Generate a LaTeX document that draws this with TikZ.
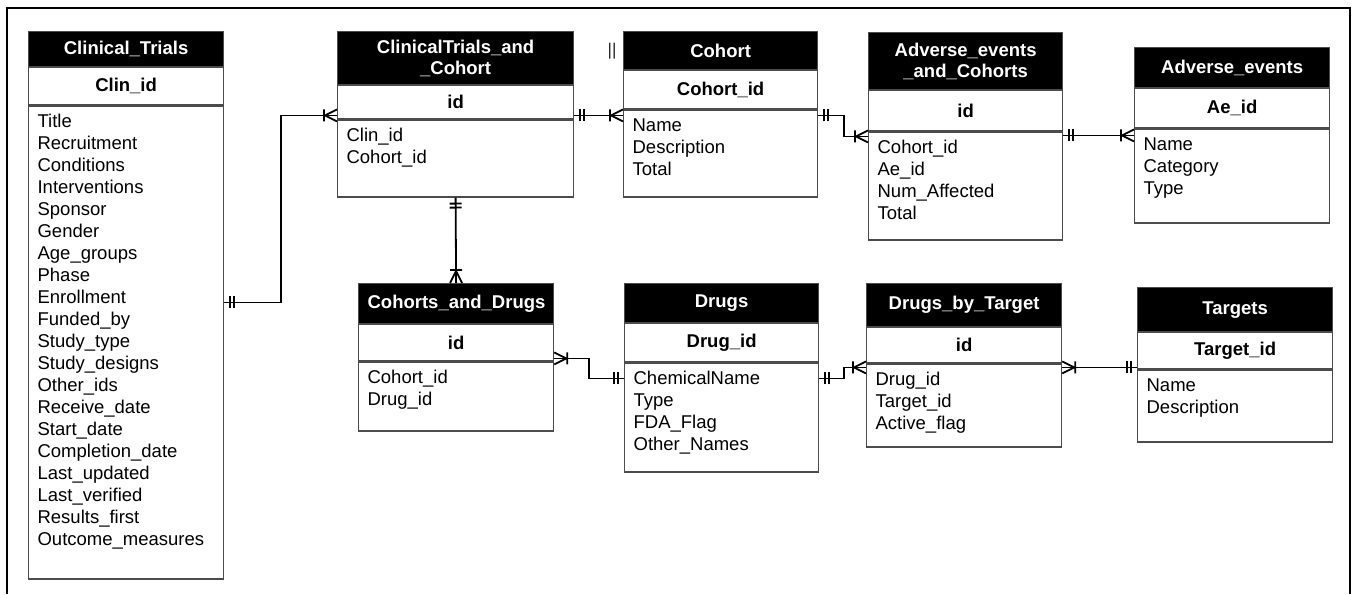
\documentclass[tikz,border=0pt]{standalone}
\usepackage{fontspec}
\setmainfont{Liberation Sans}
\usetikzlibrary{positioning,arrows.meta}

% crow's foot (one or many)
\pgfdeclarearrow{
  name=ermany,
  setup code={\pgfarrowssettipend{0pt}\pgfarrowssetlineend{0pt}},
  drawing code={
    \pgfsetdash{}{0pt}
    \pgfpathmoveto{\pgfpoint{0pt}{6pt}}
    \pgfpathlineto{\pgfpoint{-12pt}{0pt}}
    \pgfpathlineto{\pgfpoint{0pt}{-6pt}}
    \pgfpathmoveto{\pgfpoint{-13pt}{6pt}}
    \pgfpathlineto{\pgfpoint{-13pt}{-6pt}}
    \pgfusepathqstroke
  }
}
% one and only one
\pgfdeclarearrow{
  name=erone,
  setup code={\pgfarrowssettipend{0pt}\pgfarrowssetlineend{0pt}},
  drawing code={
    \pgfsetdash{}{0pt}
    \pgfpathmoveto{\pgfpoint{-6pt}{6pt}}
    \pgfpathlineto{\pgfpoint{-6pt}{-6pt}}
    \pgfpathmoveto{\pgfpoint{-10pt}{6pt}}
    \pgfpathlineto{\pgfpoint{-10pt}{-6pt}}
    \pgfusepathqstroke
  }
}

\begin{document}
\begin{tikzpicture}[x=1pt, y=-1pt,
  every node/.style={font=\fontsize{18.5}{22}\selectfont},
  tblhead/.style={draw=black!70, line width=1.2pt, fill=black, text=white, font=\fontsize{18.5}{21}\selectfont\bfseries, text width=#1, align=center, inner xsep=9pt, inner ysep=0pt, anchor=north west},
  tblhead/.default=177pt,
  tblkey/.style={draw=black!70, line width=1.2pt, fill=white, font=\fontsize{18.5}{21}\selectfont\bfseries, text width=#1, align=center, inner xsep=9pt, inner ysep=0pt},
  tblkey/.default=177pt,
  tblbody/.style={draw=black!70, line width=1.2pt, fill=white, text width=#1, align=left, inner xsep=9pt, inner ysep=0pt, text height=21.5pt},
  tblbody/.default=177pt,
  rel/.style={line width=1.8pt}]
	\useasboundingbox (0,0) rectangle (1356,594);
	\draw[line width=2.5pt] (7,594) -- (7,8) -- (1350,8) -- (1350,594);
	% tables, top row
	\node[tblhead, minimum height=35pt] (ct_head) at (28,31) {Clinical\_Trials};
	\node[tblkey, minimum height=37pt, below=0pt of ct_head] (ct_key) {Clin\_id};
	\node[tblbody, text depth=451.5pt, below=0pt of ct_key] (ct_body) {Title\\Recruitment\\Conditions\\Interventions\\Sponsor\\Gender\\Age\_groups\\Phase\\Enrollment\\Funded\_by\\Study\_type\\Study\_designs\\Other\_ids\\Receive\_date\\Start\_date\\Completion\_date\\Last\_updated\\Last\_verified\\Results\_first\\Outcome\_measures};
	\node[tblhead=218pt, minimum height=53pt] (ctc_head) at (337,31) {ClinicalTrials\_and\\\_Cohort};
	\node[tblkey=218pt, minimum height=33pt, below=0pt of ctc_head] (ctc_key) {id};
	\node[tblbody=218pt, text depth=55.5pt, below=0pt of ctc_key] (ctc_body) {Clin\_id\\Cohort\_id};
	\node[tblhead=176pt, minimum height=38pt] (coh_head) at (623,31) {Cohort};
	\node[tblkey=176pt, minimum height=38pt, below=0pt of coh_head] (coh_key) {Cohort\_id};
	\node[tblbody=176pt, text depth=65.5pt, below=0pt of coh_key] (coh_body) {Name\\Description\\Total};
	\node[tblhead=176pt, minimum height=57pt] (aec_head) at (868,32) {Adverse\_events\\\_and\_Cohorts};
	\node[tblkey=176pt, minimum height=40pt, below=0pt of aec_head] (aec_key) {id};
	\node[tblbody=176pt, text depth=86.5pt, below=0pt of aec_key] (aec_body) {Cohort\_id\\Ae\_id\\Num\_Affected\\Total};
	\node[tblhead, minimum height=40pt] (ae_head) at (1134,47) {Adverse\_events};
	\node[tblkey, minimum height=39pt, below=0pt of ae_head] (ae_key) {Ae\_id};
	\node[tblbody, text depth=72.5pt, below=0pt of ae_key] (ae_body) {Name\\Category\\Type};
	\node[font=\fontsize{17}{17}\selectfont, text=black!85] (mark) at (612,51) {||};
	% tables, bottom row
	\node[tblhead, minimum height=40pt] (cd_head) at (358,283) {Cohorts\_and\_Drugs};
	\node[tblkey, minimum height=36pt, below=0pt of cd_head] (cd_key) {id};
	\node[tblbody, text depth=47.5pt, below=0pt of cd_key] (cd_body) {Cohort\_id\\Drug\_id};
	\node[tblhead=176pt, minimum height=39pt] (drug_head) at (624,283) {Drugs};
	\node[tblkey=176pt, minimum height=38pt, below=0pt of drug_head] (drug_key) {Drug\_id};
	\node[tblbody=176pt, text depth=87.5pt, below=0pt of drug_key] (drug_body) {ChemicalName\\Type\\FDA\_Flag\\Other\_Names};
	\node[tblhead, minimum height=43pt] (dbt_head) at (866,283) {Drugs\_by\_Target};
	\node[tblkey, minimum height=35pt, below=0pt of dbt_head] (dbt_key) {id};
	\node[tblbody, text depth=61.5pt, below=0pt of dbt_key] (dbt_body) {Drug\_id\\Target\_id\\Active\_flag};
	\node[tblhead, minimum height=44pt] (tgt_head) at (1137,287) {Targets};
	\node[tblkey, minimum height=36pt, below=0pt of tgt_head] (tgt_key) {Target\_id};
	\node[tblbody, text depth=50.5pt, below=0pt of tgt_key] (tgt_body) {Name\\Description};
	% relations
	\draw[rel, {erone}-{ermany}] ([yshift=-197pt]ct_body.north east) -- ++(57pt,0) |- ([yshift=4pt]ctc_body.north west);
	\draw[rel, {erone}-{ermany}] ([yshift=4pt]ctc_body.north east) -- ([yshift=-6pt]coh_body.north west);
	\draw[rel, {erone}-{ermany}] (ctc_body.south) -- (cd_head.north);
	\draw[rel, {erone}-{ermany}] ([yshift=-6pt]coh_body.north east) -- ++(26pt,0) |- ([yshift=-5pt]aec_body.north west);
	\draw[rel, {erone}-{ermany}] ([yshift=-4pt]aec_body.north east) -- ([yshift=-7pt]ae_body.north west);
	\draw[rel, {ermany}-{erone}] ([yshift=3pt]cd_body.north east) -- ++(35pt,0) |- ([yshift=-16pt]drug_body.north west);
	\draw[rel, {erone}-{ermany}] ([yshift=-16pt]drug_body.north east) -- ++(25pt,0) |- ([yshift=-4pt]dbt_body.north west);
	\draw[rel, {ermany}-{erone}] ([yshift=-4pt]dbt_body.north east) -- ([yshift=2pt]tgt_body.north west);
\end{tikzpicture}
\end{document}
